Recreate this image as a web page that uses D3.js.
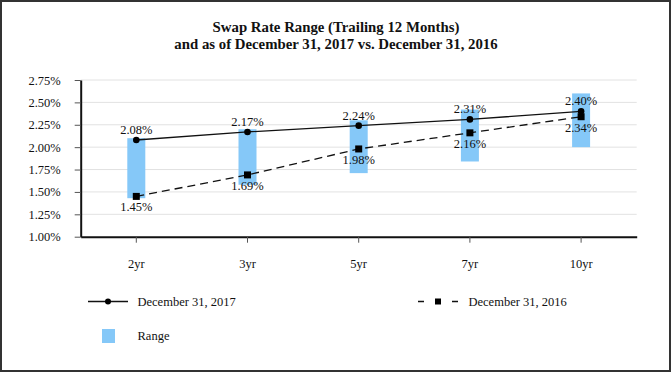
<!DOCTYPE html>
<html>
  <head>
    <meta charset="utf-8">
    <title>Swap Rate Range</title>
    <script src="https://d3js.org/d3.v7.min.js"></script>
    <style>
      body { margin: 0; background: #fff; }
      text { font-family: "Liberation Serif", "Times New Roman", serif; fill: #111; }
    </style>
  </head>
  <body>
    <div id="chart"></div>
  <script>
  // data
  var tenors    = ["2yr", "3yr", "5yr", "7yr", "10yr"];
  var dec2017   = [2.08, 2.17, 2.24, 2.31, 2.40];
  var dec2016   = [1.45, 1.69, 1.98, 2.16, 2.34];
  var rangeLow  = [1.43, 1.58, 1.71, 1.84, 2.00];
  var rangeHigh = [2.10, 2.20, 2.30, 2.42, 2.60];
  var yTicks    = [1.00, 1.25, 1.50, 1.75, 2.00, 2.25, 2.50, 2.75];

  var W = 672, H = 373;
  var pLeft = 80.7, pRight = 636.7, pTop = 80, pBottom = 236.7;
  var barColor = "#85C8F8";

  var svg = d3.select("#chart").append("svg")
      .attr("width", W)
      .attr("height", H);

  // outer frame
  svg.append("rect")
      .attr("x", 1).attr("y", 1)
      .attr("width", W - 3).attr("height", H - 3)
      .attr("fill", "none")
      .attr("stroke", "#333")
      .attr("stroke-width", 2);

  // title
  svg.append("text")
      .attr("x", 336).attr("y", 32)
      .attr("text-anchor", "middle")
      .attr("font-size", "14.8px").attr("font-weight", "bold")
      .text("Swap Rate Range (Trailing 12 Months)");
  svg.append("text")
      .attr("x", 336).attr("y", 48.5)
      .attr("text-anchor", "middle")
      .attr("font-size", "14.8px").attr("font-weight", "bold")
      .text("and as of December 31, 2017 vs. December 31, 2016");

  var x = d3.scaleBand().domain(tenors).range([pLeft, pRight]);
  var y = d3.scaleLinear().domain([1.0, 2.75]).range([pBottom, pTop]);
  var cx = function(i) { return x(tenors[i]) + x.bandwidth() / 2; };

  // gridlines
  svg.append("g").selectAll("line")
      .data(yTicks.slice(1))
      .enter().append("line")
      .attr("x1", pLeft).attr("x2", pRight)
      .attr("y1", d => y(d)).attr("y2", d => y(d))
      .attr("stroke", "#e2e2e2").attr("stroke-width", 1);

  // y axis
  var yAxis = svg.append("g")
      .attr("transform", "translate(" + pLeft + ",0)")
      .call(d3.axisLeft(y).tickValues(yTicks).tickSize(6).tickSizeOuter(0).tickPadding(14)
            .tickFormat(d => d.toFixed(2) + "%"));
  yAxis.select(".domain").attr("stroke", "#111").attr("stroke-width", 2);
  yAxis.selectAll(".tick line").attr("stroke", "#555");
  yAxis.selectAll("text")
      .attr("font-family", "Liberation Serif, serif")
      .attr("font-size", "12.5px").attr("fill", "#222");

  // x axis
  var xAxis = svg.append("g")
      .attr("transform", "translate(0," + pBottom + ")")
      .call(d3.axisBottom(x).tickSize(6).tickSizeOuter(0).tickPadding(16));
  xAxis.select(".domain").attr("stroke", "#111").attr("stroke-width", 2);
  xAxis.selectAll(".tick line").attr("stroke", "#555");
  xAxis.selectAll("text")
      .attr("font-family", "Liberation Serif, serif")
      .attr("font-size", "12.5px").attr("fill", "#222");

  // range bars
  var bw = 18;
  svg.append("g").selectAll("rect")
      .data(tenors)
      .enter().append("rect")
      .attr("x", (d, i) => cx(i) - bw / 2)
      .attr("y", (d, i) => y(rangeHigh[i]))
      .attr("width", bw)
      .attr("height", (d, i) => y(rangeLow[i]) - y(rangeHigh[i]))
      .attr("fill", barColor);

  var line = d3.line()
      .x((d, i) => cx(i))
      .y(d => y(d));

  // Dec 2016 dashed
  svg.append("path")
      .datum(dec2016)
      .attr("d", line)
      .attr("fill", "none")
      .attr("stroke", "#111")
      .attr("stroke-width", 1.3)
      .attr("stroke-dasharray", "8,5");
  svg.append("g").selectAll("rect")
      .data(dec2016)
      .enter().append("rect")
      .attr("x", (d, i) => cx(i) - 3.5)
      .attr("y", d => y(d) - 3.5)
      .attr("width", 7).attr("height", 7)
      .attr("fill", "#000");

  // Dec 2017 solid
  svg.append("path")
      .datum(dec2017)
      .attr("d", line)
      .attr("fill", "none")
      .attr("stroke", "#111")
      .attr("stroke-width", 1.3);
  svg.append("g").selectAll("circle")
      .data(dec2017)
      .enter().append("circle")
      .attr("cx", (d, i) => cx(i))
      .attr("cy", d => y(d))
      .attr("r", 3.3)
      .attr("fill", "#000");

  // value labels
  svg.append("g").selectAll("text")
      .data(dec2017)
      .enter().append("text")
      .attr("x", (d, i) => cx(i))
      .attr("y", d => y(d) - 6)
      .attr("text-anchor", "middle")
      .attr("font-size", "12.5px")
      .text(d => d.toFixed(2) + "%");
  svg.append("g").selectAll("text")
      .data(dec2016)
      .enter().append("text")
      .attr("x", (d, i) => cx(i))
      .attr("y", d => y(d) + 15)
      .attr("text-anchor", "middle")
      .attr("font-size", "12.5px")
      .text(d => d.toFixed(2) + "%");

  // legend
  var lg = svg.append("g");
  lg.append("line").attr("x1", 88).attr("x2", 128).attr("y1", 301.5).attr("y2", 301.5)
      .attr("stroke", "#111").attr("stroke-width", 1.5);
  lg.append("circle").attr("cx", 108).attr("cy", 301.5).attr("r", 3).attr("fill", "#000");
  lg.append("text").attr("x", 137.5).attr("y", 306).attr("font-size", "12.5px")
      .text("December 31, 2017");

  lg.append("line").attr("x1", 418).attr("x2", 459).attr("y1", 301.5).attr("y2", 301.5)
      .attr("stroke", "#111").attr("stroke-width", 1.5)
      .attr("stroke-dasharray", "6,28");
  lg.append("rect").attr("x", 435).attr("y", 298.5).attr("width", 6).attr("height", 6).attr("fill", "#000");
  lg.append("text").attr("x", 468.5).attr("y", 306).attr("font-size", "12.5px")
      .text("December 31, 2016");

  lg.append("rect").attr("x", 102).attr("y", 329).attr("width", 13).attr("height", 14)
      .attr("fill", barColor);
  lg.append("text").attr("x", 137.5).attr("y", 340).attr("font-size", "12.5px")
      .text("Range");
  </script>
  </body>
</html>
